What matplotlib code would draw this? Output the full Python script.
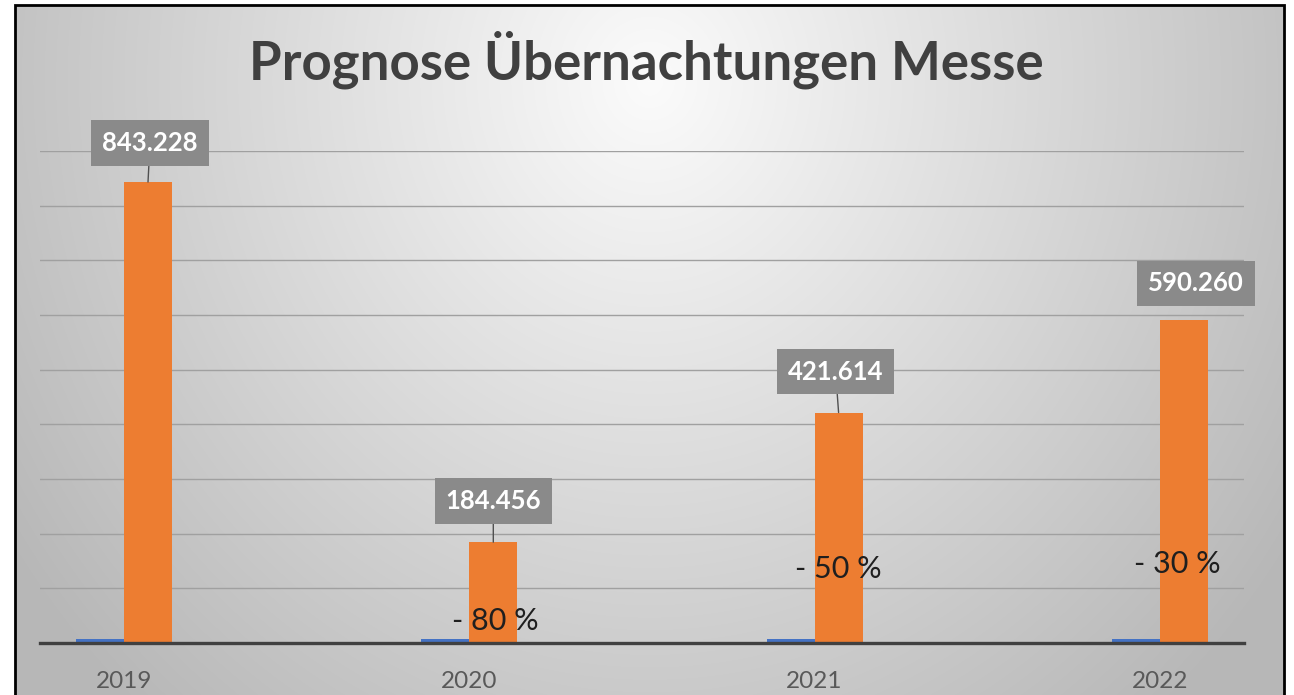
import numpy as np
import matplotlib
matplotlib.use("Agg")
import matplotlib.pyplot as plt
from matplotlib.patches import Rectangle

# ---- data ----
years = ["2019", "2020", "2021", "2022"]
orange_values = [843228, 184456, 421614, 590260]
blue_values = [7000, 7000, 7000, 7000]
value_labels = ["843.228", "184.456", "421.614", "590.260"]
pct_labels = ["", "- 80 %", "- 50 %", "- 30 %"]
pct_values = [0, 40000, 135000, 145000]   # vertical position of the % notes
title = "Prognose Übernachtungen Messe"

W, H = 1294, 695
fig = plt.figure(figsize=(W / 100, H / 100), dpi=100)
fig.patch.set_facecolor("white")

# background gradient panel inside the black frame
bx0, by0, bx1, by1 = 15, 5, 1284, 700
bg = fig.add_axes([bx0 / W, 1 - by1 / H, (bx1 - bx0) / W, (by1 - by0) / H], zorder=0)
xs = np.linspace(bx0, bx1, 400)
ys = np.linspace(by0, by1, 250)
X, Y = np.meshgrid(xs, ys)
d = np.sqrt(((X - 650) / 640) ** 2 + ((Y - 80) / 700) ** 2)
val = 0.985 - 0.22 * np.clip(d, 0, 1.2)
img = np.dstack([val, val, val])
bg.imshow(img, aspect="auto", extent=[0, 1, 0, 1], interpolation="bilinear")
bg.set_xlim(0, 1); bg.set_ylim(0, 1)
bg.axis("off")

# main axes
ax_l, ax_r, ax_t, ax_b = 40, 1244, 151, 643
ax = fig.add_axes([ax_l / W, 1 - ax_b / H, (ax_r - ax_l) / W, (ax_b - ax_t) / H], zorder=2)
ax.patch.set_alpha(0)

x = np.arange(len(years))
bw = 0.139
ax.bar(x, blue_values, width=-bw, align="edge", color="#4472C4", zorder=3)
ax.bar(x, orange_values, width=bw, align="edge", color="#ED7D31", zorder=3)

ax.set_xlim(-0.2433, 3.2436)
ax.set_ylim(0, 900000)
ax.set_yticks(np.arange(0, 900001, 100000))
ax.yaxis.grid(True, color="#a0a0a0", linewidth=1.0, zorder=1)
ax.set_axisbelow(True)
ax.tick_params(axis="y", left=False, labelleft=False)
ax.set_xticks(x)
ax.set_xticklabels(years, fontsize=17.5, color="#595959", family="Lato")
ax.tick_params(axis="x", length=0, pad=20)
for s in ["top", "right", "left"]:
    ax.spines[s].set_visible(False)
ax.spines["bottom"].set_color("#404040")
ax.spines["bottom"].set_linewidth(2.4)
ax.spines["bottom"].set_zorder(4)

# value labels (px offsets from bar top centre)
offsets = [(2, 39), (0, 41), (-3, 41), (12, 37)]
leader = [True, True, True, False]
for i, (v, lab) in enumerate(zip(orange_values, value_labels)):
    dx, dy = offsets[i]
    ax.annotate(lab, xy=(x[i] + bw / 2, v), xytext=(dx * 0.72, dy * 0.72),
                textcoords="offset points", ha="center", va="center",
                fontsize=18.5, fontweight="bold", color="white", family="Lato",
                bbox=dict(boxstyle="square,pad=0.42", fc="#8a8a8a", ec="none"),
                arrowprops=dict(arrowstyle="-", color="#505050", lw=1.0,
                                shrinkA=0, shrinkB=0) if leader[i] else None,
                zorder=5, annotation_clip=False)

# percentage notes
pct_dx = [0, 0.075, 0.07, 0.05]
for i, (p, pv) in enumerate(zip(pct_labels, pct_values)):
    if p:
        ax.text(x[i] + pct_dx[i], pv, p, ha="center", va="center",
                fontsize=22, color="#1f1f1f", family="Lato", zorder=6)

fig.text(646 / W, 1 - 60 / H, title, ha="center", va="center",
         fontsize=38, fontweight="bold", color="#404040", family="Lato")

# black frame
fig.patches.append(Rectangle((bx0 / W, 1 - by1 / H), (bx1 - bx0) / W, (by1 - by0) / H,
                             transform=fig.transFigure, fill=False, ec="black",
                             lw=2.0, zorder=10))

fig.savefig("out.png", dpi=100)
